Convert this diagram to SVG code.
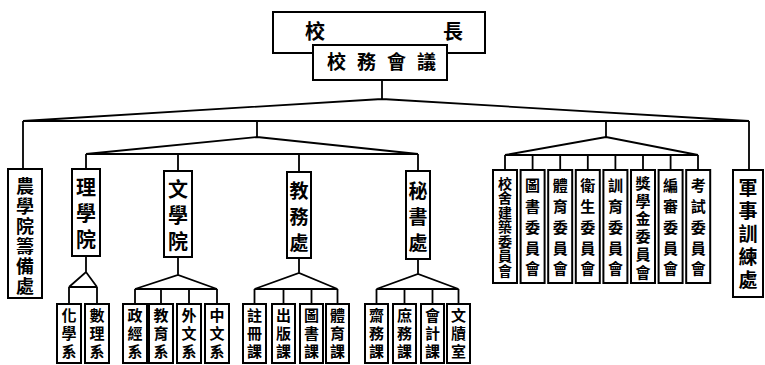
<svg xmlns="http://www.w3.org/2000/svg" width="765" height="365" viewBox="0 0 765 365">
<style>
.box{fill:#fff;stroke:#000;stroke-width:2}
.ln{fill:none;stroke:#000;stroke-width:1.8;stroke-linejoin:miter}
text{font-family:"Noto Sans CJK TC","Noto Sans CJK SC",sans-serif;font-weight:700;text-anchor:middle;fill:#000}
.v{writing-mode:vertical-rl;text-orientation:upright}
.m{font-size:20px;letter-spacing:6px}
.m19{font-size:19px;letter-spacing:7px}
.agri{font-size:18px;letter-spacing:2px}
.mil{font-size:19px;letter-spacing:4px}
.c5{font-size:15px;letter-spacing:5.7px}
.c6{font-size:15px;letter-spacing:2.7px}
.c7{font-size:14px;letter-spacing:0.5px}
.s{font-size:15px;letter-spacing:3px}
</style>
<rect width="765" height="365" fill="#fff"/>
<g id="connectors">
<path class="ln" d="M382,80 V99 M23,121 L382,99 L749,121 M23,121 H749 M23,121 V169 M749,121 V170"/>
<path class="ln" d="M257,121 V137 M86,154 L257,137 L418,154 M86,154 H418 M86,154 V169 M178,154 V171 M299,154 V172 M418,154 V171"/>
<path class="ln" d="M606,121 V137 M505,155 L606,137 L698,155 M505,155 H698 M505,155 V170 M532.6,155 V170 M560.2,155 V170 M587.8,155 V170 M615.4,155 V170 M643,155 V170 M670.6,155 V170 M698,155 V170"/>
<path class="ln" d="M86,256 V272 M69,287 L86,272 L97,287 M69,287 H97 M69,287 V304 M97,287 V304"/>
<path class="ln" d="M178,257 V275 M135,289 L178,275 L217,289 M135,289 H217 M135,289 V304 M161,289 V304 M189,289 V304 M217,289 V304"/>
<path class="ln" d="M299,258 V273 M254.5,289 L299,273 L337.5,289 M254.5,289 H337.5 M254.5,289 V304 M283.5,289 V304 M311.5,289 V304 M337.5,289 V304"/>
<path class="ln" d="M418,259 V274 M376.5,289 L418,274 L458.5,289 M376.5,289 H458.5 M376.5,289 V304 M404.5,289 V304 M432.5,289 V304 M458.5,289 V304"/>
</g>
<g id="president"><rect class="box" x="273" y="12" width="212" height="41"/><text style="font-size:20px"><tspan x="315" y="38.6">校</tspan><tspan x="453" y="38.6">長</tspan></text></g>
<g id="council"><rect class="box" x="313" y="45" width="134" height="35"/><text x="387" y="69.2" style="font-size:19px;letter-spacing:11px">校務會議</text></g>
<g id="agri"><rect class="box" x="8" y="169" width="34" height="129"/><text class="v agri" x="25" y="237">農學院籌備處</text></g>
<g id="science"><rect class="box" x="72" y="169" width="28" height="87"/><text class="v m" x="86" y="216">理學院</text></g>
<g id="arts"><rect class="box" x="164" y="171" width="28" height="86"/><text class="v m" x="178" y="218">文學院</text></g>
<g id="academic"><rect class="box" x="287" y="172" width="24" height="86"/><text class="v m19" x="299" y="220">教務處</text></g>
<g id="secretariat"><rect class="box" x="406" y="171" width="24" height="88"/><text class="v m19" x="418" y="220">秘書處</text></g>
<g id="military"><rect class="box" x="733" y="170" width="30" height="127"/><text class="v mil" x="748" y="236">軍事訓練處</text></g>
<g id="c1"><rect class="box" x="493" y="170" width="24" height="113"/><text class="v c7" x="505" y="227">校舍建築委員會</text></g>
<g id="c2"><rect class="box" x="520.6" y="170" width="24" height="113"/><text class="v c5" x="532.6" y="230">圖書委員會</text></g>
<g id="c3"><rect class="box" x="548.2" y="170" width="24" height="113"/><text class="v c5" x="560.2" y="230">體育委員會</text></g>
<g id="c4"><rect class="box" x="575.8" y="170" width="24" height="113"/><text class="v c5" x="587.8" y="230">衛生委員會</text></g>
<g id="c5"><rect class="box" x="603.4" y="170" width="24" height="113"/><text class="v c5" x="615.4" y="230">訓育委員會</text></g>
<g id="c6"><rect class="box" x="631" y="170" width="24" height="113"/><text class="v c6" x="643" y="229">獎學金委員會</text></g>
<g id="c7"><rect class="box" x="658.6" y="170" width="24" height="113"/><text class="v c5" x="670.6" y="230">編審委員會</text></g>
<g id="c8"><rect class="box" x="686.2" y="170" width="24" height="113"/><text class="v c5" x="698.2" y="230">考試委員會</text></g>
<g id="s1"><rect class="box" x="57" y="304" width="24" height="59"/><text class="v s" x="69" y="335">化學系</text></g>
<g id="s2"><rect class="box" x="85" y="304" width="24" height="59"/><text class="v s" x="97" y="335">數理系</text></g>
<g id="s3"><rect class="box" x="123" y="304" width="24" height="59"/><text class="v s" x="135" y="335">政經系</text></g>
<g id="s4"><rect class="box" x="149" y="304" width="24" height="59"/><text class="v s" x="161" y="335">教育系</text></g>
<g id="s5"><rect class="box" x="177" y="304" width="24" height="59"/><text class="v s" x="189" y="335">外文系</text></g>
<g id="s6"><rect class="box" x="205" y="304" width="24" height="59"/><text class="v s" x="217" y="335">中文系</text></g>
<g id="s7"><rect class="box" x="243" y="304" width="23" height="59"/><text class="v s" x="254.5" y="335">註冊課</text></g>
<g id="s8"><rect class="box" x="272" y="304" width="23" height="59"/><text class="v s" x="283.5" y="335">出版課</text></g>
<g id="s9"><rect class="box" x="300" y="304" width="23" height="59"/><text class="v s" x="311.5" y="335">圖書課</text></g>
<g id="s10"><rect class="box" x="326" y="304" width="23" height="59"/><text class="v s" x="337.5" y="335">體育課</text></g>
<g id="s11"><rect class="box" x="365" y="304" width="23" height="59"/><text class="v s" x="376.5" y="335">齋務課</text></g>
<g id="s12"><rect class="box" x="393" y="304" width="23" height="59"/><text class="v s" x="404.5" y="335">庶務課</text></g>
<g id="s13"><rect class="box" x="421" y="304" width="23" height="59"/><text class="v s" x="432.5" y="335">會計課</text></g>
<g id="s14"><rect class="box" x="447" y="304" width="23" height="59"/><text class="v s" x="458.5" y="335">文牘室</text></g>
</svg>
